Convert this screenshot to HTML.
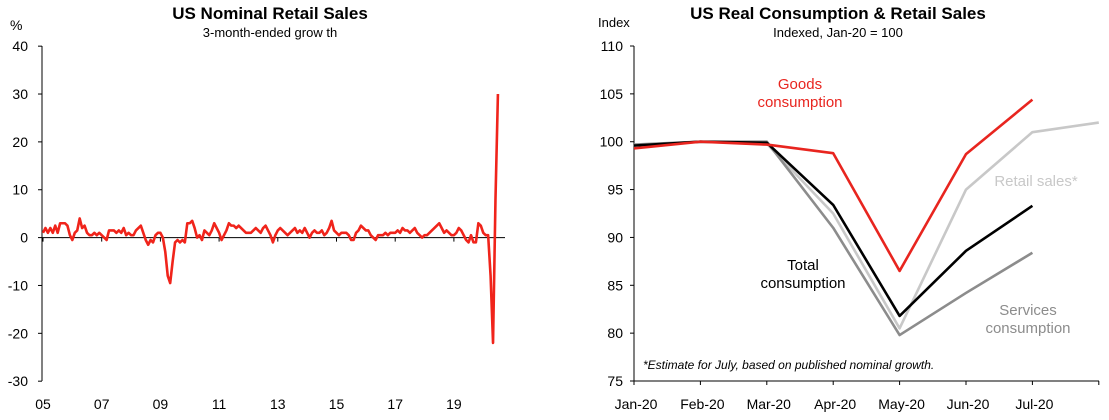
<!DOCTYPE html>
<html><head><meta charset="utf-8"><style>
body{margin:0;background:#fff;font-family:"Liberation Sans",Arial,sans-serif}
svg text{font-family:"Liberation Sans",Arial,sans-serif}
</style></head><body>
<svg id="c" width="1109" height="415" viewBox="0 0 1109 415" xmlns="http://www.w3.org/2000/svg">
<text x="270" y="19" text-anchor="middle" font-size="17" font-weight="bold">US Nominal Retail Sales</text>
<text x="270" y="37" text-anchor="middle" font-size="13">3-month-ended grow th</text>
<text x="10" y="30" font-size="14">%</text>
<text x="838" y="19" text-anchor="middle" font-size="17" font-weight="bold">US Real Consumption  &amp; Retail Sales</text>
<text x="838" y="37" text-anchor="middle" font-size="13">Indexed, Jan-20 = 100</text>
<text x="598" y="27" font-size="13">Index</text>
<g id="L"></g><g id="R"></g>
<text x="800" y="89" text-anchor="middle" font-size="15" fill="#e8251f">Goods</text>
<text x="800" y="107" text-anchor="middle" font-size="15" fill="#e8251f">consumption</text>
<text x="1036" y="186" text-anchor="middle" font-size="15" fill="#c8c8c8">Retail sales*</text>
<text x="803" y="270" text-anchor="middle" font-size="15">Total</text>
<text x="803" y="288" text-anchor="middle" font-size="15">consumption</text>
<text x="1028" y="315" text-anchor="middle" font-size="15" fill="#8c8c8c">Services</text>
<text x="1028" y="333" text-anchor="middle" font-size="15" fill="#8c8c8c">consumption</text>
<text x="643" y="369" font-size="12" font-style="italic">*Estimate for July, based on published nominal  growth.</text>
</svg>
<script>
const leftYTicks=[40,30,20,10,0,-10,-20,-30];
const leftXLabels=["05","07","09","11","13","15","17","19"];
const retailGrowth=[
1,2,1,2,1,2.5,1,3,3,3,2.5,0.5,
-0.5,1,1.5,4,2,2.5,1,0.5,0.5,1,0.5,1,
0.5,0,-0.5,1.5,1.5,1.5,1,1.5,1,2,0.5,1,
0.5,0.5,1.5,2,2.5,1,-0.5,-1.5,-0.5,-1,0.5,1,
1,0,-3,-8,-9.5,-5,-1,-0.5,-1,-0.5,-1,3,
3,3.5,2,0,0.5,-0.5,1.5,1,0.5,1.5,3,2,
1,-0.5,0.5,1.5,3,2.5,2.5,2,2.5,2,1.5,1,
1,1,1.5,2,1.5,1,2,2.5,1.5,0.5,-1,0.5,
1.5,2,1.5,1,0.5,1,1.5,2,1,1.5,1,2,
1,0,1,1.5,1,1,1.5,0.5,1,2,3.5,1.5,
1,0.5,1,1,1,0.5,-0.5,-0.5,1,1.5,2.5,2,
1.5,1.5,0.5,0,-0.5,0.5,0.5,0.5,1,0.5,1,1,
1,1.5,1,2,1.5,1.5,1,1.5,2,1,0.5,0,
0.5,0.5,1,1.5,2,2.5,3,2,1,1.5,1,0.5,
0.5,1,2,1.5,0.5,-0.5,-1,0.5,-1,-1,3,2.5,
1,0.5,0.5,-8,-22,8,30];
const rightMonths=["Jan-20","Feb-20","Mar-20","Apr-20","May-20","Jun-20","Jul-20"];
const rightYTicks=[110,105,100,95,90,85,80,75];
const goodsCons=[99.3,100,99.7,98.8,86.5,98.7,104.4];
const retailSales=[99.5,100,99.8,92.5,80.5,95,101,102];
const totalCons=[99.6,100,99.9,93.4,81.8,88.6,93.3];
const servicesCons=[99.7,100,100,91,79.8,84.2,88.4];

const NS="http://www.w3.org/2000/svg";
function mk(p,t,a){const e=document.createElementNS(NS,t);for(const k in a)e.setAttribute(k,a[k]);p.appendChild(e);return e;}
// left
const L=document.getElementById('L');
const ly=v=>237.6-(v)*4.786;
const lx=i=>43+i*29.35/12;
const la=mk(L,'line',{x1:42,y1:46,x2:42,y2:381,stroke:'#000'});

leftYTicks.forEach(v=>{
  const t=mk(L,'line',{x1:38,x2:42,y1:ly(v),y2:ly(v),stroke:'#000'});
  
  const tx=mk(L,'text',{x:28,y:ly(v)+5,'text-anchor':'end','font-size':14});tx.textContent=v;
  
});
const lz=mk(L,'line',{x1:42,x2:505,y1:ly(0),y2:ly(0),stroke:'#000'});

leftXLabels.forEach((s,k)=>{
  const x=lx(k*24);
  const t=mk(L,'line',{x1:x,x2:x,y1:ly(0),y2:ly(0)+4,stroke:'#000'});
  
  const tx=mk(L,'text',{x:x,y:409,'text-anchor':'middle','font-size':14});tx.textContent=s;
  
});
const lp=mk(L,'polyline',{points:retailGrowth.map((v,i)=>lx(i)+','+ly(v)).join(' '),fill:'none',stroke:'#f0241b','stroke-width':2.6,'stroke-linejoin':'round'});

// right
const R=document.getElementById('R');
const ry=v=>381-(v-75)*9.571;
const rx=i=>634+i*66.4;
const ra=mk(R,'line',{x1:634,y1:46,x2:634,y2:381,stroke:'#000'});

const rb=mk(R,'line',{x1:634,y1:381,x2:1099,y2:381,stroke:'#000'});

rightYTicks.forEach(v=>{
  const t=mk(R,'line',{x1:630,x2:634,y1:ry(v),y2:ry(v),stroke:'#000'});
  
  const tx=mk(R,'text',{x:623,y:ry(v)+5,'text-anchor':'end','font-size':14});tx.textContent=v;
  
});
rightMonths.concat(['']).forEach((s,i)=>{
  const x=rx(i);
  const t=mk(R,'line',{x1:x,x2:x,y1:381,y2:385,stroke:'#000'});
  
  if(!s)return;
  const tx=mk(R,'text',{x:x+2,y:409,'text-anchor':'middle','font-size':14});tx.textContent=s;
  
});
function series(arr,col,name){
  const p=mk(R,'polyline',{points:arr.map((v,i)=>rx(i)+','+ry(v)).join(' '),fill:'none',stroke:col,'stroke-width':2.6,'stroke-linejoin':'round'});
  
  
}
series(retailSales,'#c8c8c8','retail-sales-line');
series(servicesCons,'#8c8c8c','services-consumption-line');
series(totalCons,'#000','total-consumption-line');
series(goodsCons,'#e8251f','goods-consumption-line');
</script>
</body></html>
